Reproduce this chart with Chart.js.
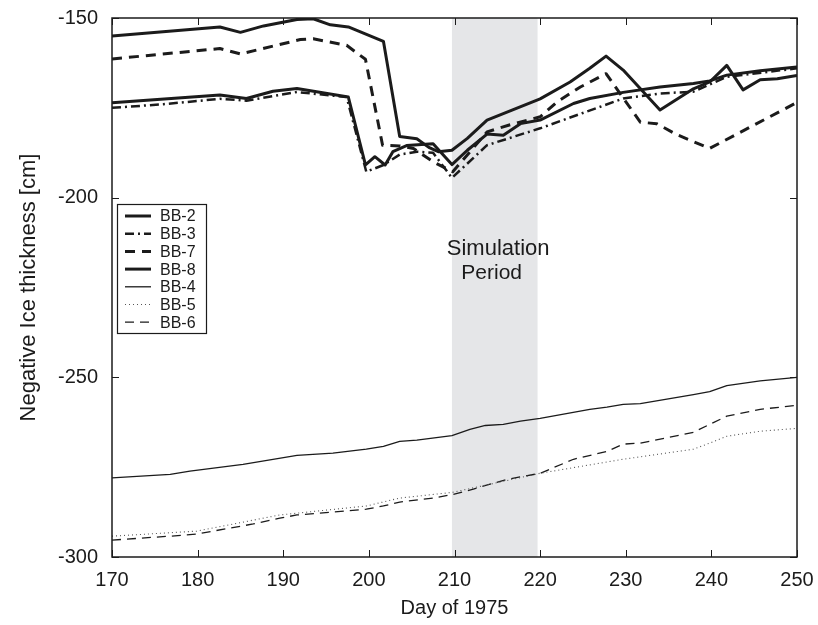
<!DOCTYPE html>
<html>
<head>
<meta charset="utf-8">
<script src="https://cdn.jsdelivr.net/npm/chart.js@4.4.0/dist/chart.umd.min.js"></script>
<style>
  html, body { margin: 0; padding: 0; background: #fff; }
</style>
</head>
<body>
<canvas id="chart" width="818" height="625"></canvas>
<script>
// Ice thickness (negative, cm) by day of 1975
const daysBB2 = [170, 182.6, 185.7, 188.8, 191.6, 197.6, 199.6, 200.7, 201.9, 202.8, 204.4, 207.5, 209.7, 211.5, 213.8, 215.7, 217.7, 220, 223.9, 225.8, 229.7, 234, 237.9, 239.8, 241.8, 245.7, 250];
const iceBB2  = [-173.6, -171.4, -172.4, -170.4, -169.6, -172, -190.9, -188.6, -190.9, -187.2, -185.5, -185, -190.8, -186.8, -182.3, -182.6, -179.4, -178.4, -173.8, -172.4, -170.7, -169.2, -168.2, -167.5, -165.9, -164.7, -163.6];

const daysBB3 = [170, 176, 182.6, 185.7, 191.6, 197.4, 199.7, 201.7, 203.6, 205.6, 207.5, 209.7, 213.8, 220, 229.7, 234, 237.9, 241.8, 250];
const iceBB3  = [-175, -174, -172.5, -173, -170.6, -172, -192.8, -190.9, -188, -187.2, -187.5, -194.5, -185.4, -180.7, -172.4, -171, -170.5, -166.4, -164];

const daysBB7 = [170, 182.6, 185, 192, 193.5, 197.4, 199.6, 201.6, 203.6, 205.2, 207.5, 209.8, 213.8, 216.5, 220, 222, 224.7, 227.7, 231.7, 233.6, 236, 239.8, 250];
const iceBB7  = [-161.4, -158.5, -160, -156, -155.8, -157.6, -161.5, -185.4, -185.6, -186.3, -190, -192.8, -181.7, -179.7, -177.5, -173.3, -169.2, -165.5, -179, -179.4, -182.5, -186.3, -173.5];

const daysBB8 = [170, 182.6, 185, 187.7, 191.6, 193.5, 195.5, 197.6, 201.7, 203.6, 205.6, 207, 208.1, 209.7, 211.5, 213.8, 220, 223.5, 225.8, 227.7, 229.7, 234, 237.9, 239.8, 241.8, 243.7, 245.7, 247.7, 250];
const iceBB8  = [-155, -152.5, -154, -152.2, -150.4, -150.2, -151.9, -152.5, -156.5, -183, -183.6, -186, -187.2, -186.8, -183.5, -178.4, -172.5, -167.8, -164, -160.6, -164.5, -175.6, -169.7, -167.8, -163.2, -170, -167.2, -166.9, -166];

const daysBB4 = [170, 176.8, 179.1, 185.3, 191.6, 195.8, 199.7, 201.7, 203.6, 205.6, 209.7, 211.8, 213.6, 215.7, 217.7, 220, 225.8, 227.8, 229.7, 231.7, 237.9, 239.8, 241.8, 245.7, 250];
const iceBB4  = [-278, -277, -276.1, -274.2, -271.7, -271.1, -270, -269.2, -267.8, -267.5, -266.2, -264.5, -263.4, -263.1, -262.2, -261.4, -258.9, -258.3, -257.5, -257.3, -254.8, -254, -252.3, -251, -250];

const daysBB5 = [170, 179.9, 189.6, 199.7, 203.6, 209.8, 220, 229.7, 237.9, 239.8, 241.8, 245.7, 250];
const iceBB5  = [-294.2, -292.8, -288.3, -285.8, -283.6, -282, -276.7, -272.8, -270, -268.3, -266.4, -265, -264.2];

const daysBB6 = [170, 176.8, 179.9, 186.5, 189.6, 191.6, 199.7, 201.7, 203.6, 207.5, 209.8, 212.2, 216.1, 220, 223.9, 227.8, 229.7, 231.7, 237.9, 239.8, 241.8, 245.7, 250];
const iceBB6  = [-295.3, -294.2, -293.6, -290.8, -289.2, -288.3, -286.7, -285.8, -284.7, -283.6, -282.6, -281.1, -278.4, -276.7, -272.8, -270.6, -268.6, -268.3, -265.3, -263.1, -260.8, -258.9, -257.8];

const xTicks = [170, 180, 190, 200, 210, 220, 230, 240, 250];
const yTicks = [-300, -250, -200, -150];
const simPeriod = [209.7, 219.7];

const FONT = '"Liberation Sans", Arial, Helvetica, sans-serif';
const INK = '#1b1b1b';

const toPoints = (xs, ys) => xs.map((d, i) => ({ x: d, y: ys[i] }));

function line(label, xs, ys, width, dash, color) {
    return {
        label: label,
        data: toPoints(xs, ys),
        borderColor: color || INK,
        borderWidth: width,
        borderDash: dash,
        borderJoinStyle: 'round',
        pointRadius: 0,
        tension: 0,
        fill: false
    };
}

// grey band, inward ticks, box, labels and the legend box
const framePlugin = {
    id: 'frame',
    beforeDatasetsDraw(chart) {
        const { ctx, chartArea: a, scales: { x } } = chart;
        const x0 = x.getPixelForValue(simPeriod[0]);
        const x1 = x.getPixelForValue(simPeriod[1]);
        ctx.save();
        ctx.fillStyle = '#e5e6e8';
        ctx.fillRect(x0, a.top, x1 - x0, a.bottom - a.top);
        ctx.restore();
    },
    afterDatasetsDraw(chart) {
        const { ctx, chartArea: a, scales: { x, y } } = chart;
        ctx.save();
        ctx.strokeStyle = INK;
        ctx.lineWidth = 1.5;
        ctx.setLineDash([]);
        ctx.strokeRect(a.left, a.top, a.right - a.left, a.bottom - a.top);

        const tl = 7;
        ctx.lineWidth = 1;
        ctx.beginPath();
        xTicks.forEach(v => {
            const px = Math.round(x.getPixelForValue(v)) + 0.5;
            ctx.moveTo(px, a.bottom); ctx.lineTo(px, a.bottom - tl);
            ctx.moveTo(px, a.top); ctx.lineTo(px, a.top + tl);
        });
        yTicks.forEach(v => {
            const py = Math.round(y.getPixelForValue(v)) + 0.5;
            ctx.moveTo(a.left, py); ctx.lineTo(a.left + tl, py);
            ctx.moveTo(a.right, py); ctx.lineTo(a.right - tl, py);
        });
        ctx.stroke();

        // annotation
        ctx.fillStyle = INK;
        ctx.font = '22px ' + FONT;
        ctx.textAlign = 'left';
        ctx.textBaseline = 'middle';
        ctx.fillText('Simulation', x.getPixelForValue(209.1), y.getPixelForValue(-214.4));
        ctx.font = '21px ' + FONT;
        ctx.fillText('Period', x.getPixelForValue(210.8), y.getPixelForValue(-221.1));

        // legend
        const lx = 117, ly = 204, lw = 89, lh = 129;
        ctx.fillStyle = '#fff';
        ctx.fillRect(lx, ly, lw, lh);
        ctx.lineWidth = 1.2;
        ctx.strokeStyle = INK;
        ctx.strokeRect(lx + 0.5, ly + 0.5, lw, lh);
        ctx.font = '16px ' + FONT;
        chart.data.datasets.forEach((ds, i) => {
            const ry = ly + 12 + i * 17.7;
            ctx.save();
            ctx.strokeStyle = ds.borderColor;
            ctx.lineWidth = ds.borderWidth;
            ctx.setLineDash(ds.borderDash || []);
            ctx.beginPath();
            ctx.moveTo(lx + 8, ry);
            ctx.lineTo(lx + 34, ry);
            ctx.stroke();
            ctx.restore();
            ctx.fillStyle = INK;
            ctx.fillText(ds.label, lx + 43, ry + 1);
        });
        ctx.restore();
    }
};

new Chart(document.getElementById('chart'), {
    type: 'line',
    data: {
        datasets: [
            line('BB-2', daysBB2, iceBB2, 3, []),
            line('BB-3', daysBB3, iceBB3, 2.5, [9, 4, 2, 4]),
            line('BB-7', daysBB7, iceBB7, 3, [10, 7]),
            line('BB-8', daysBB8, iceBB8, 3, []),
            line('BB-4', daysBB4, iceBB4, 1.3, []),
            line('BB-5', daysBB5, iceBB5, 1.1, [1, 3], '#555'),
            line('BB-6', daysBB6, iceBB6, 1.3, [9, 6])
        ]
    },
    options: {
        responsive: false,
        animation: false,
        layout: { padding: { top: 16, right: 21, left: 0, bottom: 0 } },
        plugins: { legend: { display: false }, tooltip: { enabled: false } },
        scales: {
            x: {
                type: 'linear',
                min: 170, max: 250,
                afterFit: s => { s.height = 68; },
                afterBuildTicks: s => { s.ticks = xTicks.map(v => ({ value: v })); },
                grid: { display: false },
                border: { display: false },
                ticks: { color: INK, font: { family: FONT, size: 20 }, padding: 3, maxRotation: 0 },
                title: { display: true, text: 'Day of 1975', color: INK, font: { family: FONT, size: 20 }, padding: { top: 0, bottom: 5 } }
            },
            y: {
                type: 'linear',
                min: -300, max: -150,
                afterFit: s => { s.width = 112; },
                afterBuildTicks: s => { s.ticks = yTicks.map(v => ({ value: v })); },
                grid: { display: false },
                border: { display: false },
                ticks: { color: INK, font: { family: FONT, size: 20 }, padding: 6 },
                title: { display: true, text: 'Negative Ice thickness [cm]', color: INK, font: { family: FONT, size: 22 }, padding: { top: 16, bottom: 0 } }
            }
        }
    },
    plugins: [framePlugin]
});
</script>
</body>
</html>
